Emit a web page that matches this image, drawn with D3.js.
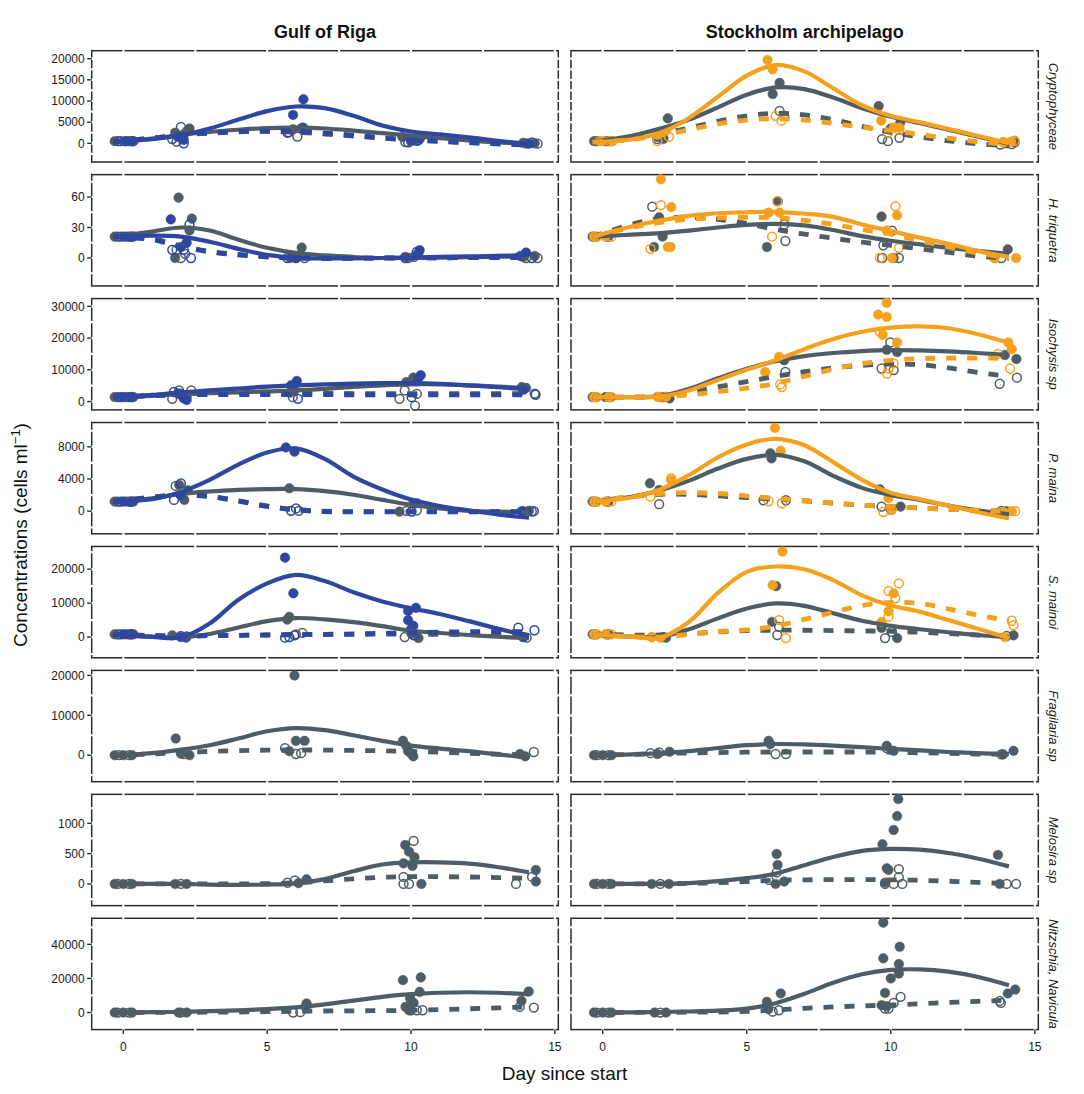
<!DOCTYPE html>
<html><head><meta charset="utf-8">
<script src="https://cdn.jsdelivr.net/npm/d3@7"></script>
<style>body{margin:0;background:#fff}svg{display:block}text{font-family:"Liberation Sans",Arial,Helvetica,sans-serif}</style>
</head><body><svg id="c" width="1084" height="1094"></svg>
<script>
// ---------- categories & ticks ----------
const columns = ["Gulf of Riga", "Stockholm archipelago"];
const species = ["Cryptophyceae", "H. triquetra", "Isochysis sp", "P. maina", "S. mainoi", "Fragilaria sp", "Melosira sp", "Nitzschia, Navicula"];
const xTicks = [0, 5, 10, 15];
const xMinor = [2.5, 7.5, 12.5];
const yTicks = [[0,5000,10000,15000,20000],[0,30,60],[0,10000,20000,30000],[0,4000,8000],[0,10000,20000],[0,10000,20000],[0,500,1000],[0,20000,40000]];
const yDomains = [[-4420,21890],[-27.5,82],[-2640,32450],[-2810,11020],[-6110,26700],[-6650,21260],[-358,1478],[-10000,55300]];
const xDomain = [-1.1, 15.12];
// days at which smoothed curves are given
const curveDays = [-0.35,1,2,3,4,5,6,7,8,9,10,11,12,13,14.1];

// ---------- smoothed curves (gs: control solid, gd: control dashed, ts/td: treatment) ----------
const cryptoRigaLines = {
  gs:[300,1100,2000,2700,3200,3600,3700,3500,3000,2400,1800,1200,700,200,-100],
  gd:[400,1200,2000,2400,2700,2800,2600,2200,1700,1200,800,500,200,-100,-400],
  ts:[400,1000,1900,3500,5600,7600,8700,8300,6500,4200,2800,2100,1400,600,-200],
  td:[400,1200,2000,2500,2800,2900,2800,2400,1900,1300,800,450,150,-150,-400]};
const cryptoStoLines = {
  gs:[400,1800,3500,5600,8500,11500,13200,12800,10800,8300,6300,4800,3200,1600,-100],
  gd:[300,1000,2200,3600,5200,6500,7100,6700,5600,4000,2600,1500,600,-100,-600],
  ts:[300,900,2500,6000,11000,16000,18500,17000,13000,9000,6500,5000,3400,1800,0],
  td:[300,900,1900,3200,4600,5500,5800,5500,4700,3800,3000,2100,1200,400,-300]};
const htriRigaLines = {
  gs:[21,26,30,27,18,10,5,2.5,1,0,0,0.3,0.8,1.2,1.5],
  gd:[21,19,12,6.5,3.5,1.2,0.2,-0.3,-0.3,0,0,0.2,0.4,0.6,0.8],
  ts:[21,22,21,16,9,3,0,-0.5,-0.3,0,0.5,1,1.5,2,3],
  td:[21,18,11,6,3,1,0,-0.3,-0.3,0,0,0.2,0.3,0.4,0.5]};
const htriStoLines = {
  gs:[21,23,24.5,27,30,32.5,33.5,32,27.5,21.5,17,13.5,10,7,4],
  gd:[21,33,39,40,38,34,28,23.5,19.5,15.5,12.5,9,5.5,2,-0.5],
  ts:[21,31,37,41.5,44,45,45.2,43.5,40.5,33,26.5,20,14,7,1],
  td:[21,30,35,38,39.5,40,39.7,37,33,28,23.5,17,11,5,0]};
const isoRigaLines = {
  gs:[1400,1800,2300,2600,2900,3200,3500,4000,4600,5100,5400,5400,5100,4700,4200],
  gd:[1400,1900,2300,2500,2600,2600,2600,2600,2500,2500,2500,2500,2500,2500,2500],
  ts:[1400,2100,2900,3500,4100,4700,5100,5400,5650,5800,5830,5600,5100,4500,3900],
  td:[1400,1800,2100,2200,2200,2200,2200,2200,2100,2100,2100,2100,2100,2100,2100]};
const isoStoLines = {
  gs:[1400,1400,1700,4000,7300,10300,12700,14300,15300,15900,16200,16100,15800,15300,14600],
  gd:[1400,1400,1600,2900,4600,6300,7900,9400,10600,11400,11800,11600,10600,9200,7900],
  ts:[1400,1400,1600,3500,6800,10000,13000,16500,19700,22000,23300,23700,23100,21300,18500],
  td:[1400,1400,1500,2100,3100,4200,5700,7900,10200,12000,13000,13500,13700,13700,13600]};
const pmaRigaLines = {
  gs:[1200,1600,2150,2450,2650,2750,2750,2500,2050,1400,800,350,50,-50,-100],
  gd:[1200,1750,2050,1850,1300,650,200,0,-50,-50,-50,-50,-50,-50,-50],
  ts:[1200,1500,2400,3900,5800,7300,7800,6500,4300,2700,1450,650,100,-400,-800],
  td:[1200,1700,2000,1800,1250,600,150,-50,-80,-80,-80,-80,-80,-80,-80]};
const pmaStoLines = {
  gs:[1200,1800,2600,3800,5300,6500,7000,6200,4400,2900,2000,1400,700,100,-400],
  gd:[1200,1800,2100,2100,1900,1700,1500,1300,1000,750,550,400,250,100,0],
  ts:[1200,1700,2700,4500,6700,8300,9000,8200,6100,3900,2300,1500,700,-100,-900],
  td:[1200,1800,2200,2300,2200,1900,1600,1300,1000,750,550,400,250,100,0]};
const smaRigaLines = {
  gs:[800,100,-100,900,2800,4700,5600,5200,4400,3200,1850,1200,600,100,-300],
  gd:[800,400,300,400,500,600,700,750,800,850,850,800,700,600,500],
  ts:[800,50,-100,4000,11000,15800,18300,16500,13200,10500,8500,6800,4700,2500,300],
  td:[800,400,300,400,500,600,700,800,900,1100,1300,1450,1550,1600,1600]};
const smaStoLines = {
  gs:[800,100,0,2300,5500,8400,9900,9200,7000,4800,3300,2300,1400,600,0],
  gd:[800,600,600,1000,1500,1900,2000,2000,1900,1800,1700,1400,1000,600,300],
  ts:[800,100,-200,4500,13000,19200,20800,20000,16800,12300,9300,7500,5000,2500,-300],
  td:[800,100,0,800,1600,2100,3200,5200,7300,9300,10200,9900,8300,6500,4800]};
const fraRigaLines = {
  gs:[-100,500,1400,2500,4200,6000,6800,6300,5000,3600,2400,1650,1000,200,-600],
  gd:[0,300,650,950,1150,1250,1300,1280,1200,1100,950,750,500,250,100]};
const fraStoLines = {
  gs:[0,200,500,1000,1800,2500,2800,2700,2400,2000,1600,1200,800,500,300],
  gd:[0,200,400,550,650,750,800,800,800,800,750,600,450,300,200]};
const melRigaLines = {
  gs:[0,0,0,-10,-15,-10,10,80,210,320,355,355,335,280,190],
  gd:[0,0,0,0,0,5,20,50,85,110,120,120,115,105,95]};
const melStoLines = {
  gs:[0,0,2,15,45,95,170,310,445,545,578,565,510,420,290],
  gd:[0,0,0,10,20,40,60,68,70,70,68,60,45,25,5]};
const nitRigaLines = {
  gs:[0,200,400,800,1300,2000,3000,4800,7000,9200,10800,11600,11900,11600,10700],
  gd:[0,50,100,200,300,500,700,900,1000,1100,1300,1700,2200,2700,3300]};
const nitStoLines = {
  gs:[0,100,300,600,1100,2300,5500,11000,17500,22500,25000,25300,24000,21000,16000],
  gd:[0,50,100,200,300,700,1500,2500,3300,3900,4400,5100,5900,6600,7200]};

// ---------- observations [group, day, value]; cf/co control filled/open, tf/to treatment ----------
const cryptoRigaPts = [
 ["cf",-0.3,500],["cf",0.05,500],["cf",0.3,500],["cf",1.8,2500],["cf",2.1,2000],["cf",2.3,3500],["cf",6.25,3700],["cf",5.9,3300],["cf",9.7,1500],["cf",10.1,800],["cf",10.3,1200],["cf",13.9,100],["cf",14.3,0],
 ["co",-0.2,500],["co",0.2,500],["co",2.0,3900],["co",1.85,400],["co",2.2,2800],["co",6.05,1600],["co",5.75,2600],["co",9.8,300],["co",10.2,600],["co",14.0,0],["co",14.4,-100],
 ["tf",0.1,500],["tf",0.3,500],["tf",1.9,1500],["tf",2.1,800],["tf",5.9,6700],["tf",6.26,10400],["tf",6.3,3200],["tf",10.0,500],["tf",10.3,1000],["tf",14.1,-100],
 ["to",-0.1,500],["to",0.35,500],["to",2.1,0],["to",1.7,1000],["to",5.7,2500],["to",6.2,3600],["to",9.9,200],["to",10.25,700],["to",14.2,200]];
const cryptoStoPts = [
 ["cf",-0.3,500],["cf",0.1,500],["cf",0.3,500],["cf",2.26,5900],["cf",1.9,1500],["cf",2.1,1000],["cf",6.14,14300],["cf",5.9,11650],["cf",9.58,8800],["cf",10.33,4870],["cf",10.0,3500],["cf",14.0,0],["cf",14.3,200],
 ["co",-0.2,500],["co",0.2,500],["co",1.9,1000],["co",2.1,1300],["co",6.14,7640],["co",6.3,6500],["co",9.7,1000],["co",10.3,1300],["co",9.9,500],["co",13.8,-300],["co",14.2,-200],
 ["tf",0.0,500],["tf",0.35,500],["tf",1.9,2000],["tf",2.2,3000],["tf",5.72,19700],["tf",5.9,17500],["tf",9.67,5340],["tf",10.1,3700],["tf",10.3,3700],["tf",14.18,400],["tf",13.9,300],
 ["to",-0.1,500],["to",0.25,500],["to",1.9,500],["to",2.3,1500],["to",6.2,5340],["to",6.0,6500],["to",10.3,3140],["to",9.9,2500],["to",13.9,300],["to",14.3,600]];
const htriRigaPts = [
 ["cf",-0.3,21],["cf",0,21],["cf",0.3,21],["cf",1.92,59.4],["cf",2.38,38.7],["cf",1.8,0],["cf",2.3,27],["cf",6.2,10.2],["cf",5.8,0],["cf",9.8,1],["cf",10.2,3],["cf",13.9,1],["cf",14.3,2],
 ["co",-0.2,21],["co",0.2,21],["co",2.0,0],["co",1.85,8],["co",2.15,4],["co",6.0,0],["co",6.3,0],["co",9.9,0],["co",10.1,1],["co",14.0,0],["co",14.4,0],
 ["tf",0.1,21],["tf",0.35,21],["tf",1.65,38],["tf",2.0,10.8],["tf",2.2,15],["tf",6.0,0],["tf",10.3,7.6],["tf",10.25,4],["tf",14.0,5.3],["tf",13.8,2],
 ["to",-0.1,21],["to",0.25,21],["to",2.3,33],["to",1.7,8],["to",2.35,0],["to",2.1,8],["to",5.7,0],["to",10.2,6],["to",9.8,0],["to",14.2,0]];
const htriStoPts = [
 ["cf",1.96,40],["cf",1.78,10.8],["cf",2.08,21],["cf",5.7,10.8],["cf",6.08,55.8],["cf",9.68,40.7],["cf",14.06,8.5],["cf",10.1,0],["cf",-0.35,21],["cf",0.2,21],
 ["co",1.72,50.5],["co",6.34,16.7],["co",6.3,33],["co",10.04,27],["co",9.74,12.5],["co",10.28,0],["co",9.7,0],["co",13.84,0],["co",-0.25,21],["co",0.15,21],
 ["tf",2.02,77.4],["tf",2.38,50],["tf",2.26,10.8],["tf",2.36,10.8],["tf",5.76,44.6],["tf",6.14,44.6],["tf",10.22,42],["tf",9.86,27],["tf",10.04,0],["tf",14.35,0],["tf",13.6,0],["tf",-0.3,21],["tf",0.1,21],
 ["to",2.02,52],["to",1.66,9],["to",5.88,21],["to",6.06,55.8],["to",10.16,50.8],["to",10.28,10],["to",9.62,0],["to",13.6,0],["to",-0.2,21],["to",0.3,21]];
const isoRigaPts = [
 ["cf",-0.3,1400],["cf",0.1,1400],["cf",0.35,1400],["cf",2.0,2500],["cf",2.2,1500],["cf",5.95,3500],["cf",5.8,2800],["cf",10.08,7540],["cf",9.84,6150],["cf",13.85,4560],["cf",14.0,4300],
 ["co",-0.2,1400],["co",0.2,1400],["co",1.94,3500],["co",2.36,3500],["co",1.7,850],["co",5.89,1370],["co",9.6,850],["co",10.14,-1270],["co",9.78,3500],["co",10.2,2400],["co",14.3,2500],
 ["tf",0,1400],["tf",0.3,1400],["tf",2.1,1000],["tf",2.2,500],["tf",1.9,2500],["tf",6.03,6470],["tf",5.83,5100],["tf",10.34,8280],["tf",10.25,7200],["tf",13.9,3700],
 ["to",-0.1,1400],["to",0.25,1400],["to",1.76,3000],["to",2.06,1800],["to",6.07,850],["to",10.02,1370],["to",14.33,2130]];
const isoStoPts = [
 ["cf",6.3,13000],["cf",9.86,16300],["cf",10.22,15600],["cf",14.36,13400],["cf",13.96,14650],["cf",2.32,1000],["cf",2.0,1400],["cf",-0.35,1400],["cf",0.1,1400],
 ["co",9.98,18600],["co",9.68,10400],["co",10.1,9900],["co",6.34,9300],["co",13.78,5600],["co",14.38,7500],["co",2.1,1400],["co",-0.25,1400],["co",0.25,1400],
 ["tf",9.86,31100],["tf",9.56,27400],["tf",9.86,26650],["tf",9.72,21000],["tf",10.22,18600],["tf",6.12,14100],["tf",5.64,9300],["tf",14.08,18600],["tf",14.2,16500],["tf",1.9,1500],["tf",2.2,1500],["tf",-0.3,1400],["tf",0.2,1400],
 ["to",9.62,22000],["to",9.86,8800],["to",9.92,10400],["to",10.1,12000],["to",6.22,4560],["to",6.16,5400],["to",14.14,10400],["to",13.72,15000],["to",2.0,1400],["to",-0.2,1400],["to",0.3,1400]];
const pmaRigaPts = [
 ["cf",-0.3,1200],["cf",0.1,1200],["cf",0.35,1200],["cf",5.77,2850],["cf",1.94,3260],["cf",2.12,1400],["cf",2.24,2600],["cf",10.08,990],["cf",9.6,-50],["cf",13.9,0],["cf",14.1,50],
 ["co",-0.2,1200],["co",0.2,1200],["co",1.82,3140],["co",6.1,50],["co",9.84,50],["co",14.2,-50],["co",10.2,100],
 ["tf",0,1200],["tf",0.3,1200],["tf",5.65,7920],["tf",5.95,7400],["tf",10.2,990],["tf",13.85,0],["tf",2.0,2000],
 ["to",-0.1,1200],["to",0.25,1200],["to",2.0,3470],["to",1.76,1400],["to",5.83,50],["to",6.0,350],["to",10.02,-50],["to",14.27,0]];
const pmaStoPts = [
 ["cf",5.82,7180],["cf",5.86,6560],["cf",1.64,3470],["cf",1.96,2640],["cf",9.62,2720],["cf",10.34,570],["cf",14.02,0],["cf",-0.35,1200],["cf",0.2,1200],
 ["co",5.58,1360],["co",6.36,1360],["co",1.96,870],["co",13.84,50],["co",9.68,570],["co",10.0,200],["co",-0.25,1200],["co",0.15,1200],
 ["tf",5.98,10350],["tf",6.18,7500],["tf",2.38,3875],["tf",9.92,1610],["tf",10.04,160],["tf",14.2,0],["tf",13.9,-100],["tf",-0.3,1200],["tf",0.1,1200],
 ["to",2.38,4080],["to",1.66,1800],["to",6.22,990],["to",5.76,1230],["to",9.74,-100],["to",14.32,0],["to",-0.2,1200],["to",0.3,1200]];
const smaRigaPts = [
 ["cf",5.77,5930],["cf",5.7,5140],["cf",1.7,500],["cf",2.18,-200],["cf",10.02,1000],["cf",10.26,-300],["cf",13.9,0],["cf",-0.3,800],["cf",0.1,800],["cf",0.35,800],
 ["co",6.0,800],["co",6.22,1200],["co",9.78,0],["co",14.02,-200],["co",2.0,300],["co",-0.2,800],["co",0.2,800],
 ["tf",5.62,23400],["tf",5.91,12900],["tf",9.9,7700],["tf",10.17,8600],["tf",9.9,4950],["tf",10.08,3300],["tf",10.0,2300],["tf",13.9,0],["tf",2.0,0],["tf",0,800],["tf",0.3,800],
 ["to",13.73,2770],["to",14.29,2000],["to",5.77,0],["to",5.95,500],["to",5.62,-200],["to",10.1,500],["to",2.2,200],["to",-0.1,800],["to",0.25,800]];
const smaStoPts = [
 ["cf",6.02,15000],["cf",5.88,4450],["cf",9.68,2700],["cf",10.22,-300],["cf",14.26,500],["cf",2.2,-200],["cf",-0.35,800],["cf",0.2,800],
 ["co",6.06,600],["co",6.12,3000],["co",9.8,-300],["co",10.04,1500],["co",14.02,300],["co",2.1,0],["co",-0.25,800],["co",0.15,800],
 ["tf",6.24,25200],["tf",5.9,15300],["tf",9.68,4450],["tf",9.92,7600],["tf",10.1,12900],["tf",13.96,0],["tf",2.0,-200],["tf",1.7,0],["tf",-0.3,800],["tf",0.1,800],
 ["to",10.28,15800],["to",9.92,13600],["to",10.16,11400],["to",9.92,6000],["to",6.12,5000],["to",6.36,-300],["to",14.2,4800],["to",14.26,3500],["to",1.7,0],["to",-0.2,800],["to",0.3,800]];
const fraRigaPts = [
 ["cf",5.95,19980],["cf",1.82,4180],["cf",6.0,3600],["cf",6.3,3600],["cf",5.77,1000],["cf",9.72,3600],["cf",9.84,2300],["cf",10.08,-300],["cf",9.9,1000],["cf",2.0,400],["cf",2.3,0],["cf",13.79,300],["cf",13.97,-300],["cf",-0.3,0],["cf",0,0],["cf",0.3,0],
 ["co",5.62,1760],["co",6.0,300],["co",6.18,500],["co",14.27,800],["co",10.0,500],["co",2.1,300],["co",-0.15,0],["co",0.2,0]];
const fraStoPts = [
 ["cf",5.76,3600],["cf",5.82,2770],["cf",9.86,2350],["cf",10.1,1100],["cf",14.26,1100],["cf",2.32,860],["cf",1.9,300],["cf",-0.3,0],["cf",0,0],["cf",0.3,0],["cf",13.9,200],
 ["co",6.0,300],["co",6.36,300],["co",9.86,1800],["co",1.66,500],["co",1.96,700],["co",13.84,200],["co",-0.2,0],["co",0.2,0]];
const melRigaPts = [
 ["cf",9.8,642],["cf",9.93,532],["cf",10.12,440],["cf",9.74,340],["cf",10.05,297],["cf",10.36,0],["cf",14.34,230],["cf",14.34,40],["cf",6.37,77],["cf",6.09,13],["cf",1.8,0],["cf",2.2,0],["cf",-0.3,0],["cf",0,0],["cf",0.3,0],
 ["co",10.09,710],["co",9.74,115],["co",9.74,0],["co",9.93,0],["co",14.21,115],["co",13.65,0],["co",5.71,20],["co",5.96,60],["co",2.0,0],["co",-0.2,0],["co",0.2,0]];
const melStoPts = [
 ["cf",10.26,1400],["cf",10.22,1120],["cf",10.1,890],["cf",9.71,654],["cf",6.04,494],["cf",6.07,313],["cf",13.72,478],["cf",9.86,258],["cf",9.92,231],["cf",6.3,40],["cf",6.0,0],["cf",9.8,20],["cf",13.78,0],["cf",1.7,0],["cf",2.3,0],["cf",-0.3,0],["cf",0,0],["cf",0.3,0],
 ["co",10.28,245],["co",10.28,110],["co",9.8,0],["co",10.1,0],["co",10.4,0],["co",14.02,0],["co",14.35,0],["co",5.76,66],["co",6.04,190],["co",2.0,0],["co",-0.2,0],["co",0.2,0]];
const nitRigaPts = [
 ["cf",9.72,19000],["cf",10.34,20600],["cf",10.3,12100],["cf",9.97,8240],["cf",10.09,5650],["cf",9.81,3300],["cf",9.93,1350],["cf",6.37,5300],["cf",6.33,3300],["cf",14.09,12350],["cf",13.84,6860],["cf",1.92,0],["cf",2.2,0],["cf",-0.3,0],["cf",0,0],["cf",0.3,0],
 ["co",9.99,1350],["co",10.2,1350],["co",10.4,1350],["co",5.9,0],["co",6.15,200],["co",13.78,3300],["co",14.27,2900],["co",2.0,0],["co",-0.2,0],["co",0.2,0]];
const nitStoPts = [
 ["cf",9.74,52700],["cf",10.31,38600],["cf",9.74,31800],["cf",10.28,28400],["cf",10.0,20000],["cf",10.28,22900],["cf",9.8,11500],["cf",6.18,11200],["cf",5.7,6240],["cf",14.06,11200],["cf",14.32,13500],["cf",9.68,4300],["cf",9.86,3700],["cf",5.75,2000],["cf",1.8,0],["cf",2.2,0],["cf",-0.3,0],["cf",0,0],["cf",0.3,0],
 ["co",10.34,9200],["co",10.1,5650],["co",9.8,2350],["co",9.92,2350],["co",6.12,1350],["co",5.9,500],["co",13.78,6830],["co",13.82,5650],["co",2.0,0],["co",-0.2,0],["co",0.2,0]];

// ---------- panel table ----------
const panels = [
 [cryptoRigaLines, cryptoRigaPts, cryptoStoLines, cryptoStoPts],
 [htriRigaLines, htriRigaPts, htriStoLines, htriStoPts],
 [isoRigaLines, isoRigaPts, isoStoLines, isoStoPts],
 [pmaRigaLines, pmaRigaPts, pmaStoLines, pmaStoPts],
 [smaRigaLines, smaRigaPts, smaStoLines, smaStoPts],
 [fraRigaLines, fraRigaPts, fraStoLines, fraStoPts],
 [melRigaLines, melRigaPts, melStoLines, melStoPts],
 [nitRigaLines, nitRigaPts, nitStoLines, nitStoPts]
];

// ---------- styles / layout ----------
const GREY = "#4e5c66", BLUE = "#2e469f", ORANGE = "#f5a11e";
const treatColor = [BLUE, ORANGE];
const colRanges = [[91.7, 558.3], [571, 1038.3]];
const rowTop0 = 50.7, rowPitch = 123.94, rowH = 111.3;

const svg = d3.select("#c");
svg.append("rect").attr("width",1084).attr("height",1094).attr("fill","#fff");

columns.forEach((c,i)=>{
  svg.append("text").attr("x",(colRanges[i][0]+colRanges[i][1])/2).attr("y",38)
    .attr("text-anchor","middle").attr("font-size",18).attr("font-weight","bold").attr("fill","#111").text(c);
});

const line = (x,y)=>d3.line().x(d=>x(d[0])).y(d=>y(d[1])).curve(d3.curveCatmullRom.alpha(0.5));

species.forEach((sp,r)=>{
  const top = rowTop0 + r*rowPitch;
  const y = d3.scaleLinear().domain(yDomains[r]).range([top+rowH, top]);
  const ticks = yTicks[r];
  const step = ticks[1]-ticks[0];
  const yMinor = ticks.map(v=>v-step/2).concat([ticks[ticks.length-1]+step/2])
      .filter(v=>v>yDomains[r][0] && v<yDomains[r][1]);
  [0,1].forEach(c=>{
    const x = d3.scaleLinear().domain(xDomain).range(colRanges[c]);
    const g = svg.append("g");
    const [x0,x1] = colRanges[c];
    g.append("rect").attr("x",x0).attr("y",top).attr("width",x1-x0).attr("height",rowH)
      .attr("fill","#fff").attr("stroke","#2a2a2a").attr("stroke-width",1.5);
    // white grid lines (cut the outline)
    const gg = g.append("g").attr("stroke","#fff").attr("stroke-width",2.2);
    ticks.concat(yMinor).forEach(v=>{
      gg.append("line").attr("x1",x0-2).attr("x2",x1+2).attr("y1",y(v)).attr("y2",y(v));
    });
    xTicks.concat(xMinor).forEach(v=>{
      if (v<xDomain[0]||v>xDomain[1]) return;
      gg.append("line").attr("y1",top-2).attr("y2",top+rowH+2).attr("x1",x(v)).attr("x2",x(v));
    });
    const lines = panels[r][c*2], pts = panels[r][c*2+1];
    const tc = treatColor[c];
    const colOf = k => (k[0]==="c"||k[0]==="g") ? GREY : tc;
    // points
    ["co","cf","to","tf"].forEach(k=>{
      pts.filter(p=>p[0]===k).forEach(p=>{
        const open = k[1]==="o";
        g.append("circle").attr("cx",x(p[1])).attr("cy",y(p[2])).attr("r",open?4.4:4.8)
          .attr("fill",open?"none":colOf(k)).attr("stroke",colOf(k)).attr("stroke-width",open?1.5:0.5);
      });
    });
    // smoothed lines
    ["gs","gd","ts","td"].forEach(k=>{
      if(!lines[k]) return;
      const data = curveDays.map((d,i)=>[d, lines[k][i]]);
      const dashed = k[1]==="d";
      g.append("path").attr("d", line(x,y)(data)).attr("fill","none")
        .attr("stroke",colOf(k)).attr("stroke-width",dashed?4.8:4.2)
        .attr("stroke-dasharray",dashed?"10,11":null).attr("stroke-linecap","butt");
    });
    // y axis on left column
    if (c===0){
      ticks.forEach(v=>{
        svg.append("line").attr("x1",x0-4.5).attr("x2",x0).attr("y1",y(v)).attr("y2",y(v))
          .attr("stroke","#2a2a2a").attr("stroke-width",1.4);
        svg.append("text").attr("x",x0-7).attr("y",y(v)).attr("dy","0.35em").attr("text-anchor","end")
          .attr("font-size",12).attr("fill","#1a1a1a").text(v);
      });
    } else {
      svg.append("text").attr("transform",`translate(1053.5,${top+rowH/2}) rotate(90)`)
        .attr("text-anchor","middle").attr("dy","0.35em").attr("font-size",13).attr("font-style","italic")
        .attr("fill","#1a1a1a").text(sp);
    }
    if (r===species.length-1){
      xTicks.forEach(v=>{
        svg.append("line").attr("x1",x(v)).attr("x2",x(v)).attr("y1",top+rowH).attr("y2",top+rowH+4.5)
          .attr("stroke","#2a2a2a").attr("stroke-width",1.4);
        svg.append("text").attr("x",x(v)).attr("y",top+rowH+21).attr("text-anchor","middle")
          .attr("font-size",12).attr("fill","#1a1a1a").text(v);
      });
    }
  });
});

// axis titles
svg.append("text").attr("x",564.5).attr("y",1080).attr("text-anchor","middle").attr("font-size",19).attr("fill","#111").text("Day since start");
const yt = svg.append("text").attr("transform","translate(27,535) rotate(-90)").attr("text-anchor","middle")
  .attr("font-size",19).attr("fill","#111");
yt.append("tspan").text("Concentrations (cells ml");
yt.append("tspan").attr("dy",-7).attr("font-size",13).text("\u22121");
yt.append("tspan").attr("dy",7).text(")");
</script></body></html>
